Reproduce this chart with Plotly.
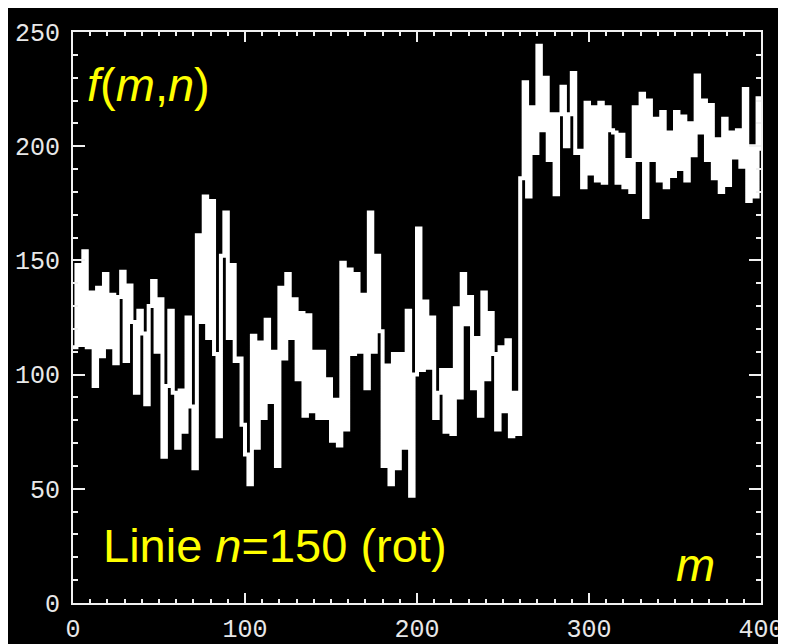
import plotly.graph_objects as go

f_values = [
    112, 148, 113, 154, 112, 136, 95, 138, 108, 144,     # m 0-18
    112, 135, 105, 134, 145, 106, 139, 123, 92, 128,     # m 20-38
    118, 87, 130, 141, 110, 133, 64, 95, 128, 92,        # m 40-58
    68, 93, 75, 125, 86, 59, 161, 123, 178, 116,         # m 60-78
    176, 109, 73, 152, 171, 116, 148, 106, 107, 78,      # m 80-98
    65, 52, 117, 68, 114, 81, 124, 88, 110, 60,          # m 100-118
    138, 107, 144, 116, 133, 98, 127, 82, 126, 84,       # m 120-138
    110, 81, 110, 81, 98, 71, 89, 69, 149, 76,           # m 140-158
    146, 109, 144, 110, 135, 94, 171, 110, 152, 119,     # m 160-178
    60, 104, 52, 109, 59, 109, 68, 128, 47, 100,         # m 180-198
    164, 102, 132, 103, 125, 81, 92, 102, 75, 102,       # m 200-218
    74, 129, 90, 144, 122, 134, 94, 116, 82, 136,        # m 220-238
    98, 127, 109, 76, 112, 84, 115, 73, 92, 74,          # m 240-258
    186, 228, 178, 217, 197, 244, 207, 230, 194, 214,    # m 260-278
    179, 214, 226, 200, 214, 232, 197, 198, 182, 219,    # m 280-298
    188, 217, 185, 219, 184, 217, 207, 206, 184, 205,    # m 300-318
    182, 194, 180, 217, 194, 223, 169, 220, 194, 212,    # m 320-338
    185, 215, 182, 206, 187, 215, 190, 213, 185, 210,    # m 340-358
    196, 231, 206, 220, 194, 218, 186, 203, 180, 212,    # m 360-378
    183, 206, 195, 207, 191, 225, 176, 200, 178, 221,    # m 380-398
    198,                                                 # m 400
]
m_values = list(range(0, 401, 2))

x_ticks = [0, 100, 200, 300, 400]
y_ticks = [0, 50, 100, 150, 200, 250]

# The page body keeps its default 8px margin (the white strip at top/left),
# so the figure fills the rest of the 786x644 window.
W, H = 778, 636
ML, MR, MT, MB = 65, 25, 24, 41

fig = go.Figure()
fig.add_trace(go.Scatter(
    x=m_values, y=f_values, mode="lines",
    line=dict(color="white", width=4, shape="hv"),
    showlegend=False, hoverinfo="skip",
))

tick_font = dict(family="Liberation Mono, Courier New, monospace", size=25, color="#e8e8e8")
axis_col = "#f0f0f0"

fig.update_xaxes(
    range=[0, 400], tickvals=x_ticks, ticktext=[str(v) for v in x_ticks],
    showgrid=False, zeroline=False, showline=True, linecolor=axis_col, linewidth=2,
    mirror="allticks", ticks="inside", ticklen=10, tickwidth=2, tickcolor=axis_col,
    minor=dict(ticks="inside", dtick=10, ticklen=4, tickwidth=2, tickcolor=axis_col, showgrid=False),
    tickfont=tick_font, ticklabelstandoff=2, automargin=False,
)
fig.update_yaxes(
    range=[0, 250], tickvals=y_ticks, ticktext=[str(v) for v in y_ticks],
    showgrid=False, zeroline=False, showline=True, linecolor=axis_col, linewidth=2,
    mirror="allticks", ticks="inside", ticklen=12, tickwidth=2, tickcolor=axis_col,
    minor=dict(ticks="inside", dtick=10, ticklen=5, tickwidth=2, tickcolor=axis_col, showgrid=False),
    tickfont=tick_font, ticklabelstandoff=6, automargin=False,
)

yellow = "#ffff00"
txt_font = dict(family="Liberation Sans, Arial, sans-serif", size=47, color=yellow)

fig.add_annotation(x=7, y=227, xref="x", yref="y", xanchor="left", yanchor="middle",
                   text="<i>f</i>(<i>m</i>,<i>n</i>)", showarrow=False, font=txt_font)
fig.add_annotation(x=16, y=25, xref="x", yref="y", xanchor="left", yanchor="middle",
                   text="Linie <i>n</i>=150 (rot)", showarrow=False, font=txt_font)
fig.add_annotation(x=362, y=17, xref="x", yref="y", xanchor="center", yanchor="middle",
                   text="<i>m</i>", showarrow=False, font=txt_font)

fig.update_layout(
    width=W, height=H,
    margin=dict(l=ML, r=MR, t=MT, b=MB, autoexpand=False),
    paper_bgcolor="black", plot_bgcolor="black",
)

fig.write_html("out.html")
